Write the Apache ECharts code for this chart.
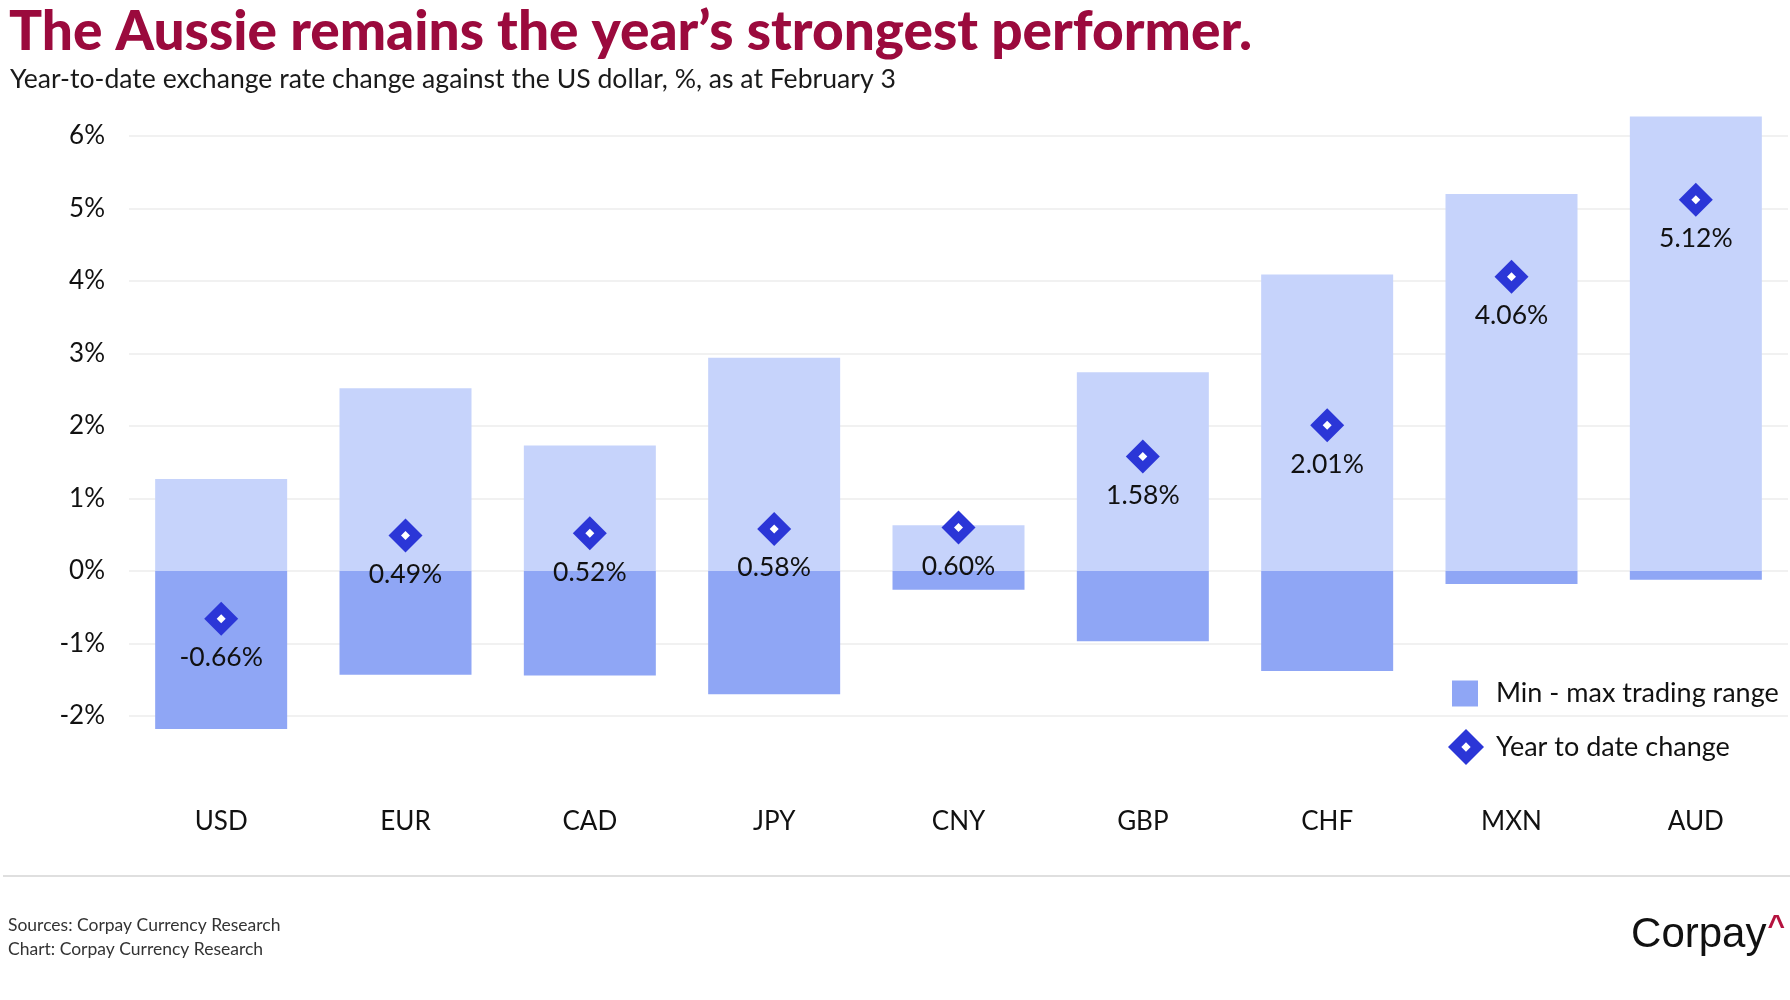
<!DOCTYPE html>
<html>
<head>
<meta charset="utf-8">
<script src="https://cdn.jsdelivr.net/npm/echarts@6/dist/echarts.min.js"></script>
<style>
html,body{margin:0;padding:0;background:#fff;}
#chart{width:1790px;height:1000px;}
</style>
</head>
<body>
<div id="chart"></div>
<script>
var categories = ['USD','EUR','CAD','JPY','CNY','GBP','CHF','MXN','AUD'];
var rangeMax = [1.27, 2.52, 1.73, 2.94, 0.63, 2.74, 4.09, 5.20, 6.27];
var rangeMin = [-2.18, -1.43, -1.44, -1.70, -0.26, -0.97, -1.38, -0.18, -0.12];
var ytdChange = [-0.66, 0.49, 0.52, 0.58, 0.60, 1.58, 2.01, 4.06, 5.12];

var FONT = 'Lato';
var chart = echarts.init(document.getElementById('chart'));
var holeDiamond = 'path://M0,-10L10,0L0,10L-10,0Z M0,-2.6L-2.6,0L0,2.6L2.6,0Z';

var option = {
  backgroundColor: '#ffffff',
  animation: false,
  title: [
    {
      text: 'The Aussie remains the year\u2019s strongest performer.',
      left: 4, top: -2,
      textStyle: {fontFamily: FONT, fontWeight: 900, fontSize: 55, color: '#9b0a3d', lineHeight: 58}
    },
    {
      text: 'Year-to-date exchange rate change against the US dollar, %, as at February 3',
      left: 5, top: 59,
      textStyle: {fontFamily: FONT, fontWeight: 'normal', fontSize: 26.6, color: '#1a1a1a', lineHeight: 30}
    },
    {
      text: 'Sources: Corpay Currency Research\nChart: Corpay Currency Research',
      left: 3, top: 908,
      textStyle: {fontFamily: FONT, fontWeight: 'normal', fontSize: 17.5, color: '#333333', lineHeight: 24}
    }
  ],
  legend: [
    {
      data: [{name: 'Min - max trading range', icon: 'rect'}],
      left: 1447, top: 675, orient: 'vertical',
      itemWidth: 26, itemHeight: 26,
      textStyle: {fontFamily: FONT, fontSize: 27, color: '#111111', padding: [0, 0, 0, 13]}
    },
    {
      data: [{name: 'Year to date change', icon: holeDiamond}],
      left: 1443, top: 724, orient: 'vertical',
      itemWidth: 36, itemHeight: 36,
      itemStyle: {color: '#2b36d7', opacity: 1},
      textStyle: {fontFamily: FONT, fontSize: 27, color: '#111111', padding: [0, 0, 0, 7]}
    }
  ],
  grid: {left: 129, right: 2, top: 63.5, bottom: 211.5, containLabel: false},
  xAxis: {
    type: 'category',
    data: categories,
    axisLine: {show: false, onZero: false},
    axisTick: {show: false},
    axisLabel: {fontFamily: FONT, fontSize: 26, color: '#111111', margin: 20}
  },
  yAxis: {
    type: 'value',
    min: -3, max: 7, interval: 1,
    axisLine: {show: false},
    axisTick: {show: false},
    axisLabel: {
      fontFamily: FONT, fontSize: 26, color: '#111111', margin: 24,
      showMinLabel: false, showMaxLabel: false,
      formatter: '{value}%'
    },
    splitLine: {show: true, showMinLine: false, showMaxLine: false, lineStyle: {color: '#ececec', width: 1.5}}
  },
  series: [
    {
      name: 'Max range',
      type: 'bar',
      data: rangeMax,
      barWidth: 132,
      barGap: '-100%',
      itemStyle: {color: '#c6d3fb'},
      silent: true
    },
    {
      name: 'Min - max trading range',
      type: 'bar',
      data: rangeMin,
      barWidth: 132,
      barGap: '-100%',
      itemStyle: {color: '#8fa6f5'},
      silent: true
    },
    {
      name: 'Year to date change',
      type: 'scatter',
      data: ytdChange,
      symbol: 'diamond',
      symbolSize: 34,
      itemStyle: {color: '#2b36d7', opacity: 1},
      z: 5,
      label: {
        show: true, position: 'bottom', distance: 8.5,
        fontFamily: FONT, fontSize: 26.5, color: '#111111',
        formatter: function (p) { return p.value.toFixed(2) + '%'; }
      }
    },
    {
      name: 'inner',
      type: 'scatter',
      data: ytdChange,
      symbol: 'diamond',
      symbolSize: 9,
      itemStyle: {color: '#ffffff', opacity: 1},
      z: 6,
      silent: true
    }
  ],
  graphic: [
    {
      type: 'line',
      shape: {x1: 3, y1: 876, x2: 1790, y2: 876},
      style: {stroke: '#d4d4d4', lineWidth: 1.5}
    },
    {
      type: 'text',
      right: 5, top: 912,
      style: {
        text: '{a|Corpay}{b|^}',
        rich: {
          a: {fontFamily: 'Liberation Sans', fontSize: 42, fill: '#111111'},
          b: {fontFamily: 'Liberation Sans', fontWeight: 'bold', fontSize: 30, fill: '#b5133f', verticalAlign: 'top', padding: [0, 0, 16, 1]}
        }
      }
    }
  ]
};
chart.setOption(option);
</script>
</body>
</html>
